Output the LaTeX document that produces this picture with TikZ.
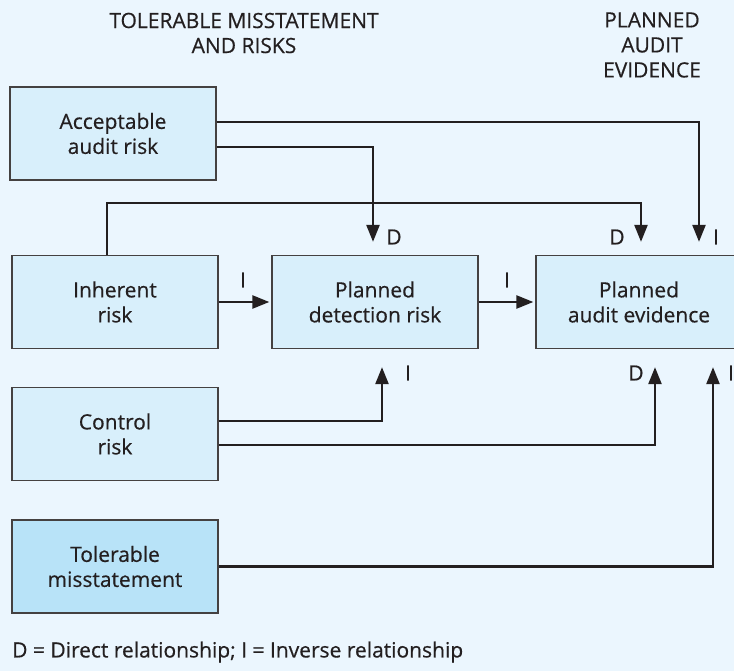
\documentclass[tikz,border=0pt]{standalone}
\usepackage{fontspec}
\setmainfont{Open Sans}[FakeBold=0.5]
\usetikzlibrary{arrows.meta}
\definecolor{bgblue}{HTML}{EBF6FE}
\definecolor{boxblue}{HTML}{D8EFFB}
\definecolor{tolblue}{HTML}{B8E3F8}
\definecolor{ink}{HTML}{231F20}

\begin{document}
\begin{tikzpicture}[
    x=1pt, y=-1pt,
    box/.style={rectangle, draw=ink!85, line width=1.3pt, fill=boxblue, minimum width=206pt,
                minimum height=93pt, align=center, font=\fontsize{21}{25}\selectfont,
                text=ink, inner sep=0pt},
    head/.style={align=center, font=\fontsize{21}{25}\selectfont, text=ink},
    rel/.style={font=\fontsize{21}{24}\selectfont, text=ink, inner sep=0pt},
    arrow/.style={-{Triangle[length=17pt,width=13pt]}, line width=2.4pt, draw=ink},
]
\fill[bgblue] (0,0) rectangle (734,671);
\useasboundingbox (0,0) rectangle (734,671);

% Column headings
\node[head] (hRisk) at (244,33) {TOLERABLE MISSTATEMENT\\AND RISKS};
\node[head] (hEvid) at (652,45) {PLANNED\\AUDIT\\EVIDENCE};

% Boxes
\node[box] (acc) at (113,133.5) {Acceptable\\audit risk};
\node[box] (inh) at (115,302) {Inherent\\risk};
\node[box] (det) at (375,302) {Planned\\detection risk};
\node[box] (evid) at (639,302) {Planned\\audit evidence};
\node[box] (ctl) at (115,434) {Control\\risk};
\node[box, fill=tolblue] (tol) at (115,566.5) {Tolerable\\misstatement};

% Connectors from above
\draw[arrow, shorten >=13pt] ([yshift=11.5pt]acc.east) -| ([xshift=60pt]evid.north);
\draw[arrow, shorten >=13pt] ([yshift=-13.5pt]acc.east) -| ([xshift=-2pt]det.north);
\draw[arrow, shorten >=13pt] ([xshift=-8pt]inh.north) -- ++(0,52pt) -| ([xshift=2pt]evid.north);

% Connectors in the middle row
\draw[arrow, shorten >=2pt] (inh) -- (det);
\draw[arrow, shorten >=2pt] (det) -- (evid);

% Connectors from below
\draw[arrow, shorten >=18pt] ([yshift=13pt]ctl.east) -| ([xshift=7pt]det.south);
\draw[arrow, shorten >=18pt] ([yshift=-11pt]ctl.east) -| ([xshift=16pt]evid.south);
\draw[arrow, shorten >=18pt] (tol.east) -| ([xshift=74pt]evid.south);

% Relationship labels
\node[rel] (dDet) at (394,237) {D};
\node[rel] (dEvid) at (617,237) {D};
\node[rel] (iAcc) at (716,237) {I};
\node[rel] (iInh) at (243,280) {I};
\node[rel] (iDet) at (507,280) {I};
\node[rel] (iCtl) at (408,373) {I};
\node[rel] (dCtl) at (636,373) {D};
\node[rel] (iTol) at (731,373) {I};

% Legend
\node[rel, anchor=west] (legend) at (12,652) {D = Direct relationship; I = Inverse relationship};

\end{tikzpicture}
\end{document}
